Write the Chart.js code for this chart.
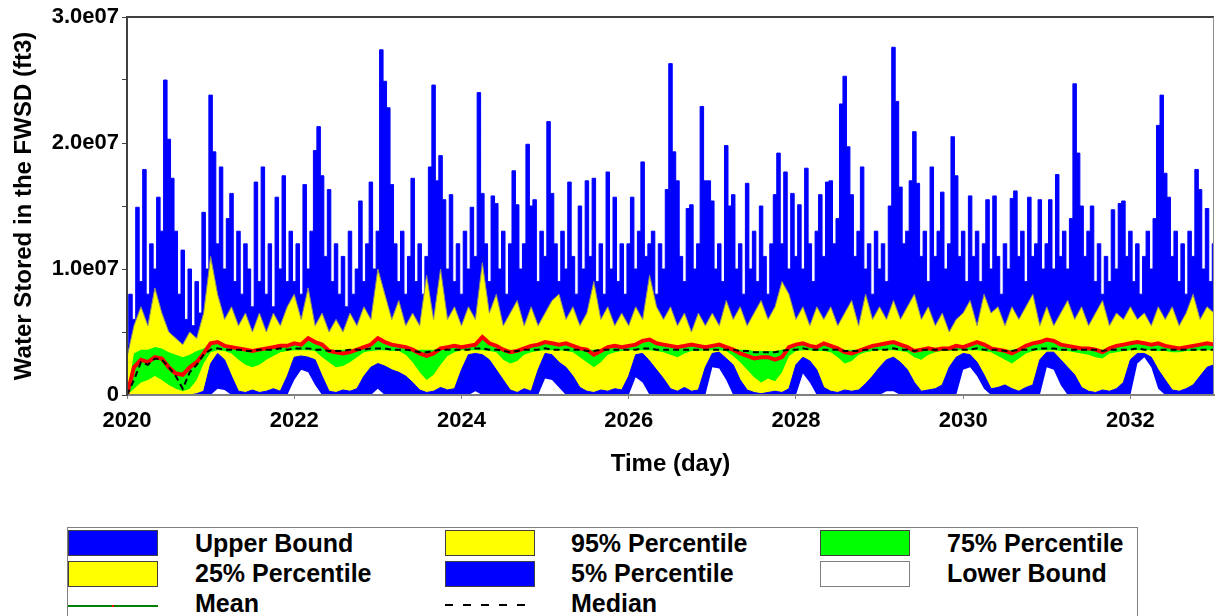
<!DOCTYPE html>
<html>
<head>
<meta charset="utf-8">
<script src="https://cdn.jsdelivr.net/npm/chart.js@4.4.1/dist/chart.umd.min.js"></script>
<style>
  body { margin: 0; background: #fff; font-family: "Liberation Sans", Arial, sans-serif; }
  #wrap { position: relative; width: 1215px; height: 616px; overflow: hidden; }
  #plot { position: absolute; left: 0; top: 0; }
  .legend { position: absolute; left: 67px; top: 527px; width: 1069px; height: 120px; border: 1px solid #7f7f7f; }
  .sw { position: absolute; width: 88px; height: 24px; border: 1px solid #404040; }
  .lbl { position: absolute; font-weight: bold; font-size: 25px; line-height: 30px; color: #000; white-space: nowrap; }
</style>
</head>
<body>
<div id="wrap">
  <canvas id="plot" width="1215" height="500"></canvas>
  <div class="legend"></div>
  <div class="sw" style="left:68px;top:530px;background:#0000ff"></div>
  <div class="lbl" style="left:195px;top:528px">Upper Bound</div>
  <div class="sw" style="left:445px;top:530px;background:#ffff00"></div>
  <div class="lbl" style="left:571px;top:528px">95% Percentile</div>
  <div class="sw" style="left:820px;top:530px;background:#00ff00"></div>
  <div class="lbl" style="left:947px;top:528px">75% Percentile</div>
  <div class="sw" style="left:68px;top:561px;background:#ffff00"></div>
  <div class="lbl" style="left:195px;top:558px">25% Percentile</div>
  <div class="sw" style="left:445px;top:561px;background:#0000ff"></div>
  <div class="lbl" style="left:571px;top:558px">5% Percentile</div>
  <div class="sw" style="left:820px;top:561px;background:#ffffff;border-color:#808080"></div>
  <div class="lbl" style="left:947px;top:558px">Lower Bound</div>
  <div style="position:absolute;left:68px;top:605px;width:90px;height:2px;background:#008000"></div>
  <div style="position:absolute;left:112px;top:605px;width:2px;height:2px;background:#ff0000"></div>
  <div class="lbl" style="left:195px;top:588px">Mean</div>
  <div style="position:absolute;left:445px;top:604px;width:90px;height:2px;background:repeating-linear-gradient(90deg,#000 0 8px,transparent 8px 18px)"></div>
  <div class="lbl" style="left:571px;top:588px">Median</div>
</div>
<script>
// valeurs en millions de ft3
// upperBound : pas d'un demi-mois (24 par an) a partir de 2020
const upperBound = [
  4, 8, 6, 14.9, 9, 17.9, 8, 12, 10, 15.7, 13, 25.0, 20.3, 17.2, 13, 8, 11.5, 6, 10, 5.5, 9, 6.5, 14.5, 10,
  23.8, 19.3, 12, 18.1, 10, 14, 16, 9, 13, 8, 12, 10, 7, 16.9, 9, 18.1, 8, 12, 7, 15.7, 10, 17.4, 9, 13,
  9, 12, 8, 16.7, 10, 13, 19.4, 21.3, 17.4, 11, 16.3, 9, 12, 8, 11, 7, 13, 8, 10, 15.4, 9, 12, 16.9, 10,
  13, 27.4, 24.9, 22.8, 16.7, 12, 9, 13, 8, 11, 17.2, 9, 12, 8, 11, 18.1, 24.6, 17.0, 19.0, 15.5, 10, 15.9, 9, 12,
  8, 13, 10, 14.9, 11, 24.0, 16, 12, 9, 15.8, 15.2, 10, 13, 8, 12, 17.8, 15.1, 10, 12, 19.9, 15, 15.5, 9, 13,
  11, 21.7, 16, 12, 9, 13, 10, 16.9, 11, 8, 15, 10, 17, 11, 17.2, 9, 12, 8, 17.7, 10, 15.7, 9, 12, 8,
  12, 15.7, 10, 13, 18.5, 11, 12, 13, 8, 12, 10, 16.3, 26.3, 19.3, 17, 11, 9, 14.8, 15.1, 10, 12, 22.9, 17, 17.0,
  15.4, 10, 12, 9, 19.8, 15, 15.9, 10, 12, 8, 16.8, 10, 13, 9, 15, 11, 8, 12, 15.9, 19.2, 12, 17.7, 10, 16,
  11, 15.1, 10, 18, 12, 9, 13, 15.9, 11, 16.9, 17, 12, 14, 23.1, 25.3, 19.7, 15.9, 11, 13, 18.1, 10, 12, 8, 13,
  10, 12, 9, 15, 27.6, 23.3, 16.5, 12, 13, 17, 20.9, 16.8, 11, 13, 9, 18.1, 11, 13, 16.1, 10, 12, 20.5, 17.4, 11,
  13, 9, 15.8, 11, 13, 9, 12, 15.5, 10, 15.8, 11, 8, 12, 10, 15.6, 16.2, 11, 13, 9, 15.7, 11, 12, 15.5, 10,
  12, 15.5, 10, 17.5, 11, 13, 10, 14, 24.7, 19.2, 15, 11, 13, 15, 9, 12, 8, 11, 9, 14.7, 10, 15.2, 15.4, 11,
  13, 9, 12, 8, 11, 13, 10, 14, 21.4, 23.8, 17.6, 15.7, 11, 13, 9, 12, 8, 13, 11, 17.9, 16.3, 10, 14.8, 9,
  12
];

// les autres series : pas mensuel (12 par an) a partir de 2020
const pct95 = [
  3.0, 5.5, 7.0, 5.5, 8.5, 6.5, 5.0, 4.5, 4.0, 5.0, 4.5, 6.5,
  11.0, 8.0, 6.0, 7.0, 5.5, 6.5, 5.0, 6.5, 5.0, 6.5, 5.5, 7.0,
  8.0, 6.0, 8.5, 5.5, 6.5, 5.0, 6.0, 5.0, 6.5, 5.5, 7.0, 6.0,
  10.0, 8.0, 6.0, 7.5, 5.5, 6.5, 5.5, 9.5, 6.0, 10.0, 6.0, 7.0,
  5.5, 7.0, 6.0, 10.5, 6.5, 8.0, 5.5, 6.5, 7.5, 5.5, 7.0, 5.5,
  6.5, 7.5, 8.0, 6.0, 7.0, 5.5, 6.5, 9.0, 6.0, 7.0, 5.5, 6.5,
  5.5, 7.0, 6.0, 9.5, 7.0, 6.0, 7.0, 5.5, 6.5, 5.0, 6.5, 5.5,
  6.5, 5.5, 7.5, 6.0, 7.0, 5.5, 6.5, 7.5, 6.0, 7.0, 9.0, 8.0,
  6.0, 7.0, 5.5, 7.0, 6.0, 7.0, 5.5, 6.5, 7.5, 5.5, 8.0, 6.0,
  7.0, 6.0, 7.5, 6.0, 7.0, 8.0, 6.0, 7.0, 5.5, 6.5, 5.0, 6.0,
  6.5, 7.5, 5.5, 8.0, 6.5, 7.0, 5.5, 7.0, 6.0, 7.0, 8.0, 5.5,
  7.0, 5.5, 6.5, 7.5, 6.0, 7.0, 5.5, 6.5, 7.5, 5.5, 6.5, 6.0,
  7.0, 6.0, 6.5, 5.5, 7.0, 6.0, 7.0, 5.5, 6.5, 8.0, 6.0, 7.0,
  6.5
];
const pct75 = [
  0, 3.3, 3.6, 3.6, 3.8, 3.7, 3.4, 3.2, 3.0, 3.2, 3.5, 3.7,
  4.0, 4.1, 3.8, 3.7, 3.7, 3.6, 3.6, 3.6, 3.7, 3.7, 3.8, 3.8,
  4.0, 3.9, 4.4, 4.1, 3.9, 3.6, 3.6, 3.6, 3.6, 3.6, 3.7, 3.9,
  4.4, 4.1, 3.9, 3.8, 3.7, 3.6, 3.6, 3.6, 3.6, 3.6, 3.7, 3.8,
  3.7, 3.8, 3.9, 4.5, 4.0, 3.8, 3.6, 3.6, 3.6, 3.6, 3.8, 3.9,
  4.1, 4.0, 3.9, 4.0, 3.8, 3.6, 3.6, 3.6, 3.6, 3.7, 3.8, 3.7,
  3.8, 3.9, 4.2, 4.3, 4.0, 3.9, 3.8, 3.7, 3.8, 3.9, 3.8, 3.7,
  3.8, 3.9, 3.7, 3.6, 3.6, 3.6, 3.5, 3.5, 3.5, 3.5, 3.6, 3.7,
  3.9, 4.0, 3.8, 3.7, 4.0, 3.8, 3.6, 3.6, 3.6, 3.6, 3.6, 3.8,
  3.9, 4.0, 4.1, 3.9, 3.7, 3.6, 3.6, 3.6, 3.6, 3.6, 3.6, 3.8,
  3.7, 3.9, 4.1, 3.9, 3.6, 3.6, 3.6, 3.6, 3.6, 3.8, 4.0, 4.1,
  4.3, 4.2, 3.9, 3.8, 3.7, 3.6, 3.6, 3.6, 3.6, 3.6, 3.8, 3.9,
  4.0, 4.1, 4.0, 3.9, 4.0, 3.8, 3.7, 3.6, 3.7, 3.8, 3.9, 4.0,
  3.9
];
const pct25 = [
  0, 0.5, 1.0, 1.2, 1.5, 1.2, 0.8, 0.5, 0.3, 0.5, 1.2, 2.5,
  3.4, 3.55, 3.5, 3.3, 2.8, 2.4, 2.2, 2.4, 2.8, 3.1, 3.4, 3.5,
  3.55, 3.55, 3.55, 3.5, 3.0, 2.6, 2.2, 2.3, 2.6, 3.0, 3.4, 3.5,
  3.55, 3.55, 3.5, 3.5, 3.2, 2.6, 1.8, 1.2, 1.6, 2.4, 3.1, 3.4,
  3.55, 3.55, 3.55, 3.55, 3.5, 3.4, 2.8, 2.5, 2.7, 3.2, 3.4, 3.5,
  3.55, 3.55, 3.55, 3.5, 3.4, 3.0, 2.6, 2.2, 2.6, 3.2, 3.4, 3.5,
  3.55, 3.55, 3.55, 3.55, 3.5, 3.4, 3.2, 3.0, 3.3, 3.5, 3.5, 3.55,
  3.55, 3.55, 3.5, 3.1, 2.6, 2.0, 1.4, 1.0, 1.3, 1.1, 1.8, 3.1,
  3.5, 3.55, 3.55, 3.5, 3.5, 3.4, 3.0, 2.5, 2.7, 3.2, 3.4, 3.5,
  3.55, 3.55, 3.55, 3.5, 3.4, 3.0, 2.8, 3.2, 3.4, 3.5, 3.5, 3.55,
  3.55, 3.55, 3.55, 3.5, 3.4, 3.1, 2.8, 2.5, 2.9, 3.3, 3.5, 3.55,
  3.55, 3.55, 3.5, 3.5, 3.4, 3.3, 3.2, 3.0, 2.9, 3.3, 3.4, 3.5,
  3.55, 3.55, 3.55, 3.55, 3.5, 3.5, 3.4, 3.4, 3.5, 3.5, 3.55, 3.55,
  3.55
];
const pct5 = [
  0, 0, 0, 0, 0, 0, 0, 0, 0, 0, 0.1, 0.3,
  2.5, 3.3, 2.8, 1.5, 0.3, 0.2, 0.4, 0.2, 0.3, 0.5, 0.3, 1.5,
  3.0, 3.1, 3.0, 2.8, 1.5, 0.3, 0.2, 0.4, 0.3, 0.5, 1.5, 2.2,
  2.5, 2.3, 2.0, 1.8, 1.5, 1.0, 0.4, 0.2, 0.3, 0.6, 0.4, 0.5,
  2.0, 3.2, 3.3, 3.2, 2.8, 2.0, 1.2, 0.4, 0.2, 0.5, 0.3, 2.0,
  3.3, 3.2, 2.6, 2.2, 1.5, 0.6, 0.3, 0.2, 0.4, 0.3, 0.5, 0.4,
  1.5, 3.2, 3.3, 2.7, 2.0, 1.3, 0.5, 0.3, 0.6, 0.3, 0.4, 2.2,
  3.3, 3.4, 2.9, 2.4, 1.2, 0.4, 0.2, 0.1, 0.2, 0.3, 0.2, 0.5,
  2.4, 3.0, 2.7, 2.0, 0.6, 0.3, 0.2, 0.4, 0.3, 0.4, 0.9, 1.5,
  2.2, 2.8, 3.0, 2.6, 2.0, 1.0, 0.3, 0.4, 0.5, 0.8, 2.2, 3.0,
  3.3, 3.2, 2.6, 1.6, 0.5, 0.6, 0.8, 0.5, 0.3, 0.6, 0.8, 2.8,
  3.4, 3.4, 2.8, 2.2, 1.6, 0.6, 0.3, 0.2, 0.4, 0.3, 0.5, 1.0,
  2.8, 3.3, 3.3, 3.0, 2.0, 1.2, 0.4, 0.3, 0.5, 0.8, 1.5, 2.2,
  2.4
];
const lowerBound = [
  0, 0, 0, 0, 0, 0, 0, 0, 0, 0, 0, 0,
  0, 0.5, 0.4, 0, 0, 0, 0, 0, 0, 0, 0, 0,
  1.2, 2.0, 1.8, 0.8, 0, 0, 0, 0, 0, 0, 0, 0,
  0.5, 0, 0, 0, 0, 0, 0, 0, 0, 0, 0, 0,
  0, 0, 0.3, 0, 0, 0, 0, 0, 0, 0, 0, 0,
  1.3, 1.2, 0.6, 0, 0, 0, 0, 0, 0, 0, 0, 0,
  0, 1.4, 1.0, 0, 0, 0, 0, 0, 0, 0, 0, 0,
  2.2, 2.1, 1.2, 0, 0, 0, 0, 0, 0, 0, 0, 0,
  0, 1.7, 1.0, 0, 0, 0, 0, 0, 0, 0, 0, 0,
  0, 0.3, 0.3, 0, 0, 0, 0, 0, 0, 0, 0, 0,
  2.0, 2.2, 1.5, 0.5, 0, 0, 0, 0, 0, 0, 0, 0,
  2.2, 2.0, 0.8, 0, 0, 0, 0, 0, 0, 0, 0, 0,
  0, 2.5, 3.0, 2.2, 0.5, 0, 0, 0, 0, 0, 0, 0,
  0
];
const meanVals = [
  0, 2.2, 2.8, 2.6, 3.0, 2.9, 2.2, 1.7, 1.6, 2.2, 2.6, 3.3,
  4.1, 4.2, 3.9, 3.8, 3.7, 3.6, 3.5, 3.6, 3.7, 3.8, 3.9, 3.9,
  4.1, 4.0, 4.5, 4.2, 4.0, 3.5, 3.4, 3.3, 3.4, 3.6, 3.8, 4.0,
  4.5, 4.2, 4.0, 3.9, 3.8, 3.6, 3.3, 3.1, 3.3, 3.7, 3.8, 3.9,
  3.8, 3.9, 4.0, 4.6, 4.1, 3.9, 3.6, 3.4, 3.5, 3.7, 3.9, 4.0,
  4.2, 4.1, 4.0, 4.1, 3.9, 3.7, 3.6, 3.2, 3.5, 3.8, 3.9, 3.8,
  3.9, 4.0, 4.3, 4.4, 4.1, 4.0, 3.9, 3.8, 3.9, 4.0, 3.9, 3.8,
  3.9, 4.0, 3.8, 3.6, 3.3, 3.1, 2.9, 3.0, 3.0, 2.8, 3.0, 3.8,
  4.0, 4.1, 3.9, 3.8, 4.1, 3.9, 3.7, 3.4, 3.3, 3.5, 3.7, 3.9,
  4.0, 4.1, 4.2, 4.0, 3.8, 3.5, 3.6, 3.7, 3.6, 3.7, 3.7, 3.9,
  3.8, 4.0, 4.2, 4.0, 3.7, 3.6, 3.5, 3.3, 3.6, 3.9, 4.1, 4.2,
  4.4, 4.3, 4.0, 3.9, 3.8, 3.7, 3.7, 3.6, 3.4, 3.7, 3.9, 4.0,
  4.1, 4.2, 4.1, 4.0, 4.1, 3.9, 3.8, 3.7, 3.8, 3.9, 4.0, 4.1,
  4.0
];
const medianVals = [
  0, 1.2, 2.6, 2.4, 2.9, 2.8, 2.2, 1.5, 0.5, 1.8, 2.4, 3.2,
  3.6, 3.7, 3.6, 3.6, 3.6, 3.5, 3.5, 3.6, 3.6, 3.6, 3.7, 3.6,
  3.7, 3.7, 3.7, 3.6, 3.6, 3.5, 3.5, 3.5, 3.6, 3.6, 3.6, 3.7,
  3.7, 3.7, 3.6, 3.6, 3.6, 3.5, 3.4, 3.4, 3.5, 3.6, 3.6, 3.6,
  3.6, 3.6, 3.7, 3.7, 3.6, 3.6, 3.5, 3.4, 3.5, 3.6, 3.6, 3.6,
  3.7, 3.6, 3.6, 3.6, 3.6, 3.6, 3.5, 3.5, 3.6, 3.6, 3.6, 3.6,
  3.6, 3.6, 3.7, 3.7, 3.6, 3.6, 3.6, 3.6, 3.6, 3.6, 3.6, 3.6,
  3.6, 3.6, 3.6, 3.6, 3.5, 3.5, 3.4, 3.4, 3.4, 3.4, 3.5, 3.6,
  3.6, 3.7, 3.6, 3.6, 3.6, 3.6, 3.6, 3.5, 3.5, 3.5, 3.6, 3.6,
  3.6, 3.6, 3.7, 3.6, 3.6, 3.5, 3.6, 3.6, 3.6, 3.6, 3.6, 3.6,
  3.6, 3.6, 3.7, 3.6, 3.6, 3.6, 3.5, 3.5, 3.6, 3.6, 3.6, 3.7,
  3.7, 3.7, 3.6, 3.6, 3.6, 3.6, 3.6, 3.6, 3.5, 3.6, 3.6, 3.6,
  3.6, 3.7, 3.6, 3.6, 3.6, 3.6, 3.6, 3.6, 3.6, 3.6, 3.6, 3.6,
  3.6
];

const startYear = 2020;
const xTicks = [2020, 2022, 2024, 2026, 2028, 2030, 2032];

// transforme une serie en points {x: annee, y: valeur}
function toPoints(vals, perYear) {
  return vals.map((v, i) => ({ x: startYear + i / perYear, y: v }));
}

function band(label, vals, perYear, color, order, border, stepped) {
  return {
    label: label,
    data: toPoints(vals, perYear),
    backgroundColor: color,
    borderColor: border || color,
    borderWidth: border ? 1 : 0,
    pointRadius: 0,
    tension: 0,
    stepped: stepped || false,
    fill: 'origin',
    order: order
  };
}

const frame = {
  id: 'frame',
  afterDraw(chart) {
    const { ctx, chartArea: a } = chart;
    ctx.save();
    ctx.strokeStyle = '#404040';
    ctx.lineWidth = 2;
    ctx.beginPath(); ctx.moveTo(a.left, a.top); ctx.lineTo(a.right, a.top); ctx.stroke();
    ctx.strokeStyle = '#8c8c8c';
    ctx.lineWidth = 1;
    ctx.beginPath(); ctx.moveTo(a.right - 0.5, a.top); ctx.lineTo(a.right - 0.5, a.bottom); ctx.stroke();
    ctx.restore();
  }
};

const FONT = '"Liberation Sans", Arial, sans-serif';

new Chart(document.getElementById('plot').getContext('2d'), {
  type: 'line',
  data: {
    datasets: [
      band('Upper Bound', upperBound, 24, '#0000ff', 8, '#0000ff', 'middle'),
      band('95% Percentile', pct95, 12, '#ffff00', 7, '#8f8f70'),
      band('75% Percentile', pct75, 12, '#00ff00', 6),
      band('25% Percentile', pct25, 12, '#ffff00', 5),
      band('5% Percentile', pct5, 12, '#0000ff', 4, '#0000ff'),
      band('Lower Bound', lowerBound, 12, '#ffffff', 3),
      {
        label: 'Mean', data: toPoints(meanVals, 12), borderColor: '#ff0000', borderWidth: 4,
        pointRadius: 0, tension: 0, fill: false, order: 2
      },
      {
        label: 'Median', data: toPoints(medianVals, 12), borderColor: '#000000', borderWidth: 2,
        borderDash: [6, 4], pointRadius: 0, tension: 0, fill: false, order: 1
      }
    ]
  },
  options: {
    responsive: false,
    animation: false,
    parsing: false,
    devicePixelRatio: 1,
    layout: { padding: { top: 17, right: 1, left: 0, bottom: 0 } },
    plugins: { legend: { display: false }, tooltip: { enabled: false } },
    scales: {
      x: {
        type: 'linear', min: 2020, max: 2033,
        afterFit: s => { s.height = 105; },
        afterBuildTicks: s => { s.ticks = xTicks.map(v => ({ value: v })); },
        ticks: { callback: v => String(v), color: '#000', font: { family: FONT, size: 22, weight: 'bold' }, padding: 9, maxRotation: 0, autoSkip: false },
        grid: { display: true, drawOnChartArea: false, drawTicks: true, tickLength: 4, color: '#808080' },
        border: { display: true, color: '#808080', width: 2, z: 1 },
        title: { display: true, text: 'Time (day)', color: '#000', font: { family: FONT, size: 24, weight: 'bold' }, padding: { top: 0, bottom: 21 } }
      },
      y: {
        min: 0, max: 30,
        afterFit: s => { s.width = 127; },
        ticks: {
          stepSize: 5, autoSkip: false, color: '#000',
          font: { family: FONT, size: 22, weight: 'bold' },
          callback: v => v === 0 ? '0' : (v % 10 === 0 ? (v / 10).toFixed(1) + 'e07' : '')
        },
        grid: { display: true, drawOnChartArea: false, drawTicks: true, tickLength: 5, color: '#404040' },
        border: { display: true, color: '#404040', width: 2, z: 1 },
        title: { display: true, text: 'Water Stored in the FWSD (ft3)', color: '#000', font: { family: FONT, size: 24, weight: 'bold' }, padding: { top: 10, bottom: 0 } }
      }
    }
  },
  plugins: [frame]
});
</script>
</body>
</html>
